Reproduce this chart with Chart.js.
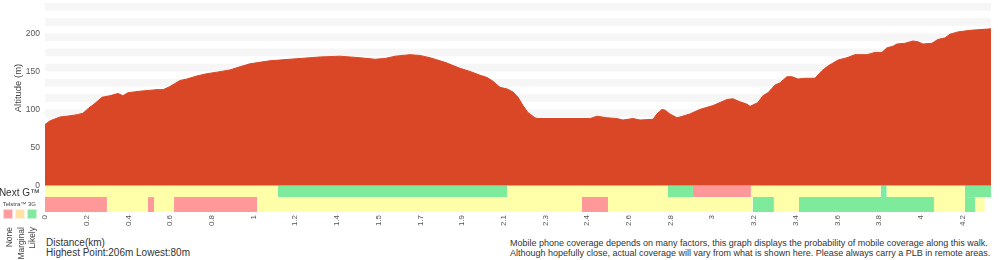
<!DOCTYPE html>
<html>
<head>
<meta charset="utf-8">
<script src="https://cdn.jsdelivr.net/npm/chart.js@4.4.1/dist/chart.umd.min.js"></script>
<style>
  body { margin: 0; background: #fff; font-family: "Liberation Sans", Arial, sans-serif; color: #333; }
  #wrap { position: relative; width: 1000px; height: 260px; overflow: hidden; }
  #chartBox { position: absolute; left: 0; top: 0; width: 1000px; height: 232px; }
  .t { position: absolute; white-space: nowrap; }
  .rot { transform: translate(-50%, -50%) rotate(-90deg); }
  .vert { writing-mode: vertical-rl; transform: rotate(180deg); font-size: 8.5px; color: #444; }
  .sq { position: absolute; width: 8px; height: 8px; top: 209px; border: 1px solid rgba(255,255,255,0.6); }
</style>
</head>
<body>
<div id="wrap">
  <div id="chartBox"><canvas id="profile" width="1000" height="232"></canvas></div>

  <div class="t rot" style="left:17px; top:88px; font-size:9.5px; color:#444;">Altitude (m)</div>
  <div class="t" style="right:960px; top:187px; font-size:10px; line-height:12px; color:#333;">Next G™</div>
  <div class="t" style="right:964px; top:200px; font-size:6px; line-height:8px; color:#444;">Telstra™ 3G</div>

  <div class="sq" style="left:3px; background:#ff9c9c;"></div>
  <div class="sq" style="left:15px; background:#ffe3a6;"></div>
  <div class="sq" style="left:27px; background:#84e9a0;"></div>
  <div class="t vert" style="left:4px; top:227px;">None</div>
  <div class="t vert" style="left:16px; top:227px;">Marginal</div>
  <div class="t vert" style="left:27px; top:227px;">Likely</div>

  <div class="t" style="left:46px; top:238px; font-size:10px; line-height:10px;">Distance(km)<br>Highest Point:206m Lowest:80m</div>
  <div class="t" style="left:510px; top:238px; font-size:9px; line-height:10px;">Mobile phone coverage depends on many factors, this graph displays the probability of mobile coverage along this walk.<br>Although hopefully close, actual coverage will vary from what is shown here. Please always carry a PLB in remote areas.</div>
</div>

<script>
// altitude profile (km along the walk, metres)
const profileKm = [0, 0.023, 0.068, 0.100, 0.146, 0.173, 0.196, 0.228, 0.260, 0.296, 0.333, 0.355, 0.378, 0.433, 0.510, 0.538, 0.569, 0.615, 0.647, 0.692, 0.738, 0.784, 0.843, 0.888, 0.934, 1.025, 1.162, 1.253, 1.344, 1.435, 1.503, 1.549, 1.595, 1.663, 1.708, 1.754, 1.822, 1.891, 1.936, 1.982, 2.014, 2.041, 2.073, 2.105, 2.132, 2.155, 2.178, 2.200, 2.232, 2.246, 2.483, 2.515, 2.560, 2.606, 2.633, 2.679, 2.711, 2.770, 2.788, 2.811, 2.825, 2.847, 2.879, 2.893, 2.938, 2.984, 3.043, 3.107, 3.134, 3.166, 3.198, 3.212, 3.248, 3.271, 3.294, 3.326, 3.349, 3.380, 3.403, 3.431, 3.462, 3.508, 3.540, 3.567, 3.613, 3.654, 3.690, 3.745, 3.781, 3.813, 3.836, 3.863, 3.881, 3.918, 3.954, 3.977, 4.000, 4.041, 4.068, 4.100, 4.123, 4.160, 4.214, 4.260, 4.310];
const profileAlt = [80, 85, 90, 91, 93, 95, 101, 108, 116, 118, 121, 118, 122, 124, 126, 126, 130, 138, 140, 144, 147, 149, 152, 156, 160, 164, 167, 169, 170, 168, 166, 167, 170, 172, 171, 168, 162, 154, 150, 145, 142, 137, 129, 127, 123, 116, 105, 96, 89, 88, 88, 91, 89, 88, 86, 88, 86, 87, 94, 100, 99, 94, 89, 90, 94, 100, 105, 113, 114, 110, 107, 104, 109, 118, 122, 132, 135, 143, 143, 140, 141, 141, 151, 157, 165, 168, 172, 172, 175, 175, 181, 183, 186, 187, 190, 189, 186, 187, 192, 194, 199, 202, 204, 205, 206];

// coverage runs: [from km, to km, level]
const nextG = [
  [0, 1.061, 'marginal'], [1.061, 2.105, 'likely'], [2.105, 2.838, 'marginal'],
  [2.838, 2.952, 'likely'], [2.952, 3.216, 'none'], [3.216, 3.807, 'marginal'],
  [3.807, 3.835, 'likely'], [3.835, 4.191, 'marginal'], [4.191, 4.310, 'likely']
];
const telstra3G = [
  [0, 0.282, 'none'], [0.282, 0.469, 'marginal'], [0.469, 0.497, 'none'],
  [0.497, 0.588, 'marginal'], [0.588, 0.966, 'none'], [0.966, 2.446, 'marginal'],
  [2.446, 2.565, 'none'], [2.565, 3.224, 'marginal'], [3.224, 3.321, 'likely'],
  [3.321, 3.435, 'marginal'], [3.435, 4.050, 'likely'], [4.050, 4.191, 'marginal'],
  [4.191, 4.237, 'likely'], [4.237, 4.282, 'marginal']
];

const tickLabels = ['0', '0.2', '0.4', '0.6', '0.8', '1', '1.2', '1.4', '1.5', '1.7', '1.9', '2.1', '2.3', '2.4', '2.6', '2.8', '3', '3.2', '3.4', '3.6', '3.8', '4', '4.2'];
const yTicks = [0, 50, 100, 150, 200];

const tickStep = 0.19;
const levelColor = { none: '#ff9999', marginal: '#ffffaa', likely: '#7eeb9c' };
const rowNextG = [0, -15.4];
const row3G = [-15.4, -35];

function coverageSets(runs, row) {
  return runs.map(r => ({
    type: 'line',
    data: [{ x: r[0], y: row[0] }, { x: r[1], y: row[0] }],
    fill: { value: row[1] },
    backgroundColor: levelColor[r[2]],
    borderWidth: 0,
    pointRadius: 0
  }));
}

// light banding behind the profile
const bands = {
  id: 'bands',
  beforeDatasetsDraw(chart) {
    const { ctx, chartArea, scales } = chart;
    ctx.save();
    ctx.fillStyle = '#f6f6f6';
    for (let v = 10; v < 240; v += 20) {
      const top = scales.y.getPixelForValue(v + 10);
      const bot = scales.y.getPixelForValue(v);
      ctx.fillRect(chartArea.left, top, chartArea.right - chartArea.left, bot - top);
    }
    ctx.restore();
  }
};

Chart.defaults.font.family = '"Liberation Sans", Arial, sans-serif';

new Chart(document.getElementById('profile'), {
  type: 'line',
  data: {
    datasets: [{
      data: profileKm.map((x, i) => ({ x: x, y: profileAlt[i] })),
      fill: { value: 0 },
      backgroundColor: '#da4726',
      borderColor: '#da4726',
      borderWidth: 1,
      pointRadius: 0,
      tension: 0
    }].concat(coverageSets(nextG, rowNextG), coverageSets(telstra3G, row3G))
  },
  options: {
    responsive: false,
    animation: false,
    devicePixelRatio: 1,
    layout: { padding: { top: 3, right: 9, left: 0, bottom: 0 } },
    plugins: { legend: { display: false }, tooltip: { enabled: false } },
    scales: {
      x: {
        type: 'linear',
        min: 0,
        max: 4.31,
        afterBuildTicks: axis => { axis.ticks = tickLabels.map((l, i) => ({ value: i * tickStep })); },
        afterFit: s => { s.height = 20; s.paddingLeft = 0; s.paddingRight = 0; },
        ticks: {
          autoSkip: false,
          minRotation: 90,
          maxRotation: 90,
          padding: 3,
          color: '#555',
          font: { size: 8 },
          callback: (v, i) => tickLabels[i]
        },
        grid: { display: false, drawTicks: false },
        border: { display: false }
      },
      y: {
        min: -35,
        max: 240,
        afterBuildTicks: axis => { axis.ticks = yTicks.map(v => ({ value: v })); },
        afterFit: s => { s.width = 45; s.paddingTop = 0; s.paddingBottom = 0; },
        ticks: { padding: 5, color: '#555', font: { size: 8.5 } },
        grid: { display: false, drawTicks: false },
        border: { display: false }
      }
    }
  },
  plugins: [bands]
});
</script>
</body>
</html>
